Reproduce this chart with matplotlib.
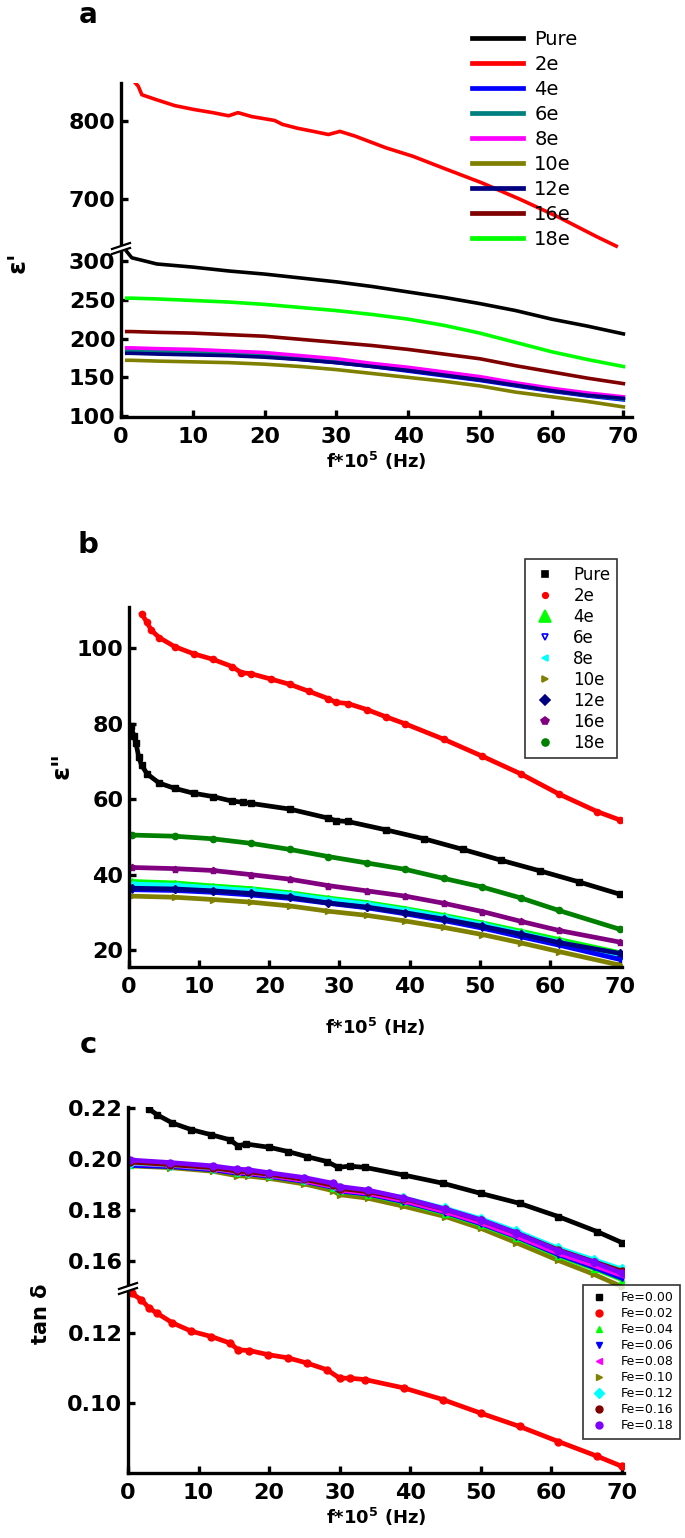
import matplotlib
matplotlib.use('Agg')
import matplotlib.pyplot as plt
from matplotlib.lines import Line2D
from matplotlib.patches import Polygon

# ---------------- data ----------------
# (a) real permittivity
x_a = [0.8, 1.5, 5, 10, 15, 20, 25, 30, 35, 40, 45, 50, 55, 60, 65, 70]
e1_pure = [312, 304, 296, 292, 287, 283, 278, 273, 267, 260, 253, 245, 236, 225, 216, 206]
e1_4e = [183, 183, 182, 181, 179, 177, 173, 169, 164, 158, 152, 146, 139, 132, 126, 121]
e1_6e = [185, 185, 184, 183, 181, 179, 175, 171, 165, 160, 154, 148, 140, 133, 127, 122]
e1_8e = [188, 188, 187, 186, 184, 182, 178, 174, 168, 163, 157, 151, 143, 136, 130, 125]
e1_10e = [172, 172, 171, 170, 169, 167, 164, 160, 155, 150, 145, 139, 131, 125, 119, 112]
e1_12e = [181, 181, 180, 179, 178, 176, 173, 169, 164, 159, 153, 147, 140, 133, 127, 123]
e1_16e = [209, 209, 208, 207, 205, 203, 199, 195, 191, 186, 180, 174, 165, 157, 149, 142]
e1_18e = [252, 252, 251, 249, 247, 244, 240, 236, 231, 225, 217, 207, 195, 183, 173, 164]
x_a_2e = [1.4, 1.9, 2.4, 2.9, 4.8, 7.5, 10.2, 12.8, 15, 16.3, 18.2, 21.4, 22.5, 24.6, 26.8,
          28.9, 30.5, 32.6, 36.9, 40.7, 44.9, 50.3, 55.6, 61, 66.3, 69]
e1_2e = [860, 850, 845, 834, 828, 820, 815, 811, 807, 811, 806, 801, 796, 791, 787,
         783, 787, 781, 766, 755, 740, 721, 700, 677, 652, 640]
labels_a = ['Pure', '2e', '4e', '6e', '8e', '10e', '12e', '16e', '18e']
colors_a = ['black', 'red', 'blue', '#008080', 'magenta', '#808000', '#000080', '#800000', '#00ff00']

# (b) imaginary permittivity
x_b_pure = [0.3, 0.7, 1.0, 1.4, 1.8, 2.6, 4.3, 6.5, 9.2, 12, 14.7, 16.3, 17.4, 22.9, 28.4,
            29.5, 31.2, 36.6, 42.1, 47.6, 53.1, 58.6, 64.1, 70]
e2_pure = [79.5, 76.7, 74.8, 71.1, 69, 66.7, 64.3, 62.9, 61.6, 60.7, 59.5, 59.2, 58.9, 57.4, 55,
           54.3, 54.1, 51.9, 49.5, 46.7, 43.8, 41, 38.1, 34.8]
x_b_2e = [1.8, 2.5, 3.2, 4.3, 6.5, 9.2, 12, 14.7, 16, 17.4, 20.2, 22.9, 25.7, 28.4, 29.5,
          31.2, 33.9, 36.6, 39.4, 44.9, 50.4, 55.9, 61.3, 66.8, 70]
e2_2e = [109.2, 107.1, 104.8, 102.9, 100.5, 98.6, 97.1, 95.2, 93.6, 93.3, 91.9, 90.5, 88.6, 86.7, 85.7,
         85.4, 83.8, 81.9, 80, 75.9, 71.4, 66.7, 61.4, 56.7, 54.5]
x_b = [0.4, 6.5, 12, 17.4, 22.9, 28.4, 33.9, 39.4, 44.9, 50.4, 55.9, 61.3, 70]
e2_4e = [38.2, 37.8, 37.0, 36.3, 35.2, 33.8, 32.6, 31.0, 29.2, 27.2, 25.0, 22.8, 19.3]
e2_6e = [36.0, 35.8, 35.3, 34.6, 33.7, 32.4, 31.2, 29.6, 27.8, 25.8, 23.5, 21.3, 17.5]
e2_8e = [37.5, 37.2, 36.5, 35.8, 34.8, 33.4, 32.2, 30.6, 28.8, 26.8, 24.5, 22.2, 18.3]
e2_10e = [34.3, 34.0, 33.4, 32.7, 31.7, 30.3, 29.2, 27.7, 26.0, 24.1, 21.9, 19.6, 16.0]
e2_12e = [36.4, 36.2, 35.7, 35.0, 34.0, 32.5, 31.4, 29.9, 28.2, 26.3, 24.2, 22.0, 19.1]
e2_16e = [41.9, 41.6, 41.1, 40.0, 38.8, 37.1, 35.7, 34.3, 32.4, 30.2, 27.6, 25.2, 22.1]
e2_18e = [50.5, 50.2, 49.5, 48.3, 46.7, 44.8, 43.1, 41.4, 39.0, 36.7, 33.8, 30.5, 25.5]
colors_b = ['black', 'red', '#00ff00', 'blue', 'cyan', '#808000', '#000080', '#800080', '#008000']
markers_b = ['s', 'o', '^', 'v', '<', '>', 'D', 'p', 'o']

# (c) loss tangent
x_c_pure = [3, 4.1, 6.3, 9, 11.8, 14.5, 15.6, 16.7, 20, 22.7, 25.4, 28.2, 29.8, 31.4, 33.6,
            39.1, 44.6, 50, 55.5, 61, 66.5, 70]
tan_pure = [0.2196, 0.2174, 0.2141, 0.2115, 0.2095, 0.2075, 0.2051, 0.2059, 0.2046, 0.2029, 0.2009,
            0.1990, 0.1967, 0.1972, 0.1967, 0.1937, 0.1905, 0.1865, 0.1826, 0.1774, 0.1715, 0.1672]
x_c_2e = [0.5, 1.9, 3, 4.1, 6.3, 9, 11.8, 14.5, 15.6, 17.2, 19.9, 22.7, 25.4, 28.2, 30,
          31.4, 33.6, 39.1, 44.6, 50, 55.5, 61, 66.5, 70]
tan_2e = [0.1314, 0.1295, 0.1271, 0.1257, 0.1229, 0.1205, 0.1190, 0.1171, 0.1152, 0.1150, 0.1138,
          0.1129, 0.1114, 0.1095, 0.1071, 0.1071, 0.1067, 0.1043, 0.1010, 0.0971, 0.0933, 0.0890,
          0.0848, 0.0819]
x_c = [0.3, 6, 12, 15.5, 17, 20, 25, 29, 30, 34, 39, 45, 50, 55, 61, 66, 70]
tan_4e = [0.1978, 0.1972, 0.1960, 0.1946, 0.1944, 0.1933, 0.1912, 0.1888, 0.1873, 0.1860, 0.1830,
          0.1786, 0.1742, 0.1690, 0.1620, 0.1570, 0.1527]
tan_6e = [0.1975, 0.1970, 0.1958, 0.1944, 0.1942, 0.1932, 0.1912, 0.1889, 0.1874, 0.1862, 0.1833,
          0.1790, 0.1746, 0.1695, 0.1625, 0.1575, 0.1532]
tan_8e = [0.1983, 0.1975, 0.1962, 0.1948, 0.1946, 0.1936, 0.1915, 0.1892, 0.1878, 0.1866, 0.1837,
          0.1793, 0.1750, 0.1698, 0.1630, 0.1583, 0.1543]
tan_10e = [0.1973, 0.1966, 0.1952, 0.1934, 0.1933, 0.1924, 0.1902, 0.1876, 0.1860, 0.1846, 0.1815,
           0.1774, 0.1728, 0.1672, 0.1602, 0.1548, 0.1499]
tan_12e = [0.1985, 0.1977, 0.1965, 0.1952, 0.1950, 0.1940, 0.1921, 0.1898, 0.1885, 0.1874, 0.1848,
           0.1806, 0.1766, 0.1717, 0.1650, 0.1605, 0.1568]
tan_16e = [0.1988, 0.1978, 0.1966, 0.1952, 0.1950, 0.1940, 0.1920, 0.1897, 0.1884, 0.1872, 0.1845,
           0.1802, 0.1760, 0.1710, 0.1643, 0.1597, 0.1560]
tan_18e = [0.1996, 0.1986, 0.1973, 0.1960, 0.1958, 0.1946, 0.1927, 0.1905, 0.1892, 0.1878, 0.1848,
           0.1803, 0.1761, 0.1710, 0.1640, 0.1595, 0.1552]
labels_c = ['Fe=0.00', 'Fe=0.02', 'Fe=0.04', 'Fe=0.06', 'Fe=0.08', 'Fe=0.10', 'Fe=0.12', 'Fe=0.16', 'Fe=0.18']
colors_c = ['black', 'red', '#00ff00', 'blue', 'magenta', '#808000', 'cyan', '#800000', '#8000ff']
markers_c = ['s', 'o', '^', 'v', '<', '>', 'D', 'o', 'o']

x_ticks = [0, 10, 20, 30, 40, 50, 60, 70]

# ---------------- figure ----------------
plt.rcParams['font.family'] = ['DejaVu Sans']
W, H = 685, 1538
fig = plt.figure(figsize=(W / 100, H / 100), dpi=100)
TICK_FS = 16
XLAB_FS = 13


def box(left, top, right, bottom):
    # pixel box -> figure fraction
    return [left / W, 1 - bottom / H, (right - left) / W, (bottom - top) / H]


def style(ax, bottom=True):
    for s in ['top', 'right']:
        ax.spines[s].set_visible(False)
    ax.spines['left'].set_linewidth(2.4)
    ax.spines['bottom'].set_linewidth(2.4)
    ax.tick_params(direction='in', length=5, width=2.4, labelsize=TICK_FS, pad=4)
    ax.tick_params(axis='x', pad=7)
    for t in ax.get_xticklabels() + ax.get_yticklabels():
        t.set_fontweight('bold')
    if not bottom:
        ax.spines['bottom'].set_visible(False)
        ax.tick_params(axis='x', bottom=False, labelbottom=False)


def break_mark(x, y):
    d = 5
    poly = Polygon([((x - 9) / W, 1 - (y + 2) / H), ((x + 9) / W, 1 - (y - 4) / H),
                    ((x + 9) / W, 1 - (y - 4 - d) / H), ((x - 9) / W, 1 - (y + 2 - d) / H)],
                   closed=True, transform=fig.transFigure, fc='white', ec='none', zorder=10)
    fig.patches.append(poly)
    for off in (0, d):
        fig.lines.append(Line2D([(x - 9) / W, (x + 9) / W], [1 - (y + 2 - off) / H, 1 - (y - 4 - off) / H],
                                transform=fig.transFigure, color='black', lw=1.6, zorder=11))


XLAB = 'f*10$^{\\mathbf{5}}$ (Hz)'

# ---------- panel a ----------
ax_a1 = fig.add_axes(box(121, 83, 632, 250))
ax_a2 = fig.add_axes(box(121, 250, 632, 417))
series_a = [e1_pure, None, e1_4e, e1_6e, e1_8e, e1_10e, e1_12e, e1_16e, e1_18e]
handles = []
for lab, col, ys in zip(labels_a, colors_a, series_a):
    if ys is None:
        ax_a1.plot(x_a_2e, e1_2e, color=col, lw=2.6)
    else:
        ax_a2.plot(x_a, ys, color=col, lw=2.6)
    handles.append(Line2D([], [], color=col, lw=3.4, label=lab))
for ax in (ax_a1, ax_a2):
    ax.set_xlim(0, 71.2)
    ax.set_xticks(x_ticks)
ax_a1.set_ylim(635, 849)
ax_a1.set_yticks([700, 800])
ax_a2.set_ylim(99, 314)
ax_a2.set_yticks([100, 150, 200, 250, 300])
style(ax_a1, bottom=False)
style(ax_a2)
ax_a2.set_xlabel(XLAB, fontsize=XLAB_FS, fontweight='bold', labelpad=2)
fig.legend(handles=handles, loc='upper left', bbox_to_anchor=(472 / W, 1 - 30 / H), frameon=False,
           fontsize=14, labelspacing=0.31, handlelength=2.6, handletextpad=0.6,
           borderpad=0, borderaxespad=0)
fig.text(18 / W, 1 - 262 / H, "ε'", rotation=90, fontsize=18, fontweight='bold',
         ha='center', va='center')
fig.text(88 / W, 1 - 1 / H, 'a', fontsize=20, fontweight='bold', ha='center', va='top')
break_mark(121, 252)

# ---------- panel b ----------
ax_b = fig.add_axes(box(129, 607, 622, 967))
series_b = [(x_b_pure, e2_pure), (x_b_2e, e2_2e), (x_b, e2_4e), (x_b, e2_6e), (x_b, e2_8e),
            (x_b, e2_10e), (x_b, e2_12e), (x_b, e2_16e), (x_b, e2_18e)]
draw_order_b = [0, 1, 8, 7, 2, 4, 3, 6, 5]
for i in draw_order_b:
    xs, ys = series_b[i]
    ax_b.plot(xs, ys, color=colors_b[i], lw=3.4)
    ax_b.plot(xs, ys, ls='none', marker=markers_b[i], color=colors_b[i], ms=4.5)
hb = []
for i, lab in enumerate(labels_a):
    ms = {0: 4, 1: 4, 2: 8, 3: 5, 4: 4, 5: 5, 6: 5, 7: 6, 8: 5}[i]
    mfc = 'white' if i == 3 else colors_b[i]
    hb.append(Line2D([], [], ls='none', marker=markers_b[i], color=colors_b[i], mfc=mfc,
                     mew=1.2, ms=ms, label=lab))
ax_b.set_xlim(0, 70.3)
ax_b.set_xticks(x_ticks)
ax_b.set_ylim(15.5, 111)
ax_b.set_yticks([20, 40, 60, 80, 100])
style(ax_b)
ax_b.set_xlabel(XLAB, fontsize=XLAB_FS, fontweight='bold', labelpad=14)
leg_b = fig.legend(handles=hb, loc='upper left', bbox_to_anchor=(525 / W, 1 - 559 / H), frameon=True,
                   fancybox=False, edgecolor='black', fontsize=12, labelspacing=0.18,
                   handlelength=1.6, handletextpad=0.9, borderpad=0.4, borderaxespad=0)
leg_b.get_frame().set_linewidth(1.2)
fig.text(62 / W, 1 - 765 / H, 'ε"', rotation=90, fontsize=18, fontweight='bold',
         ha='center', va='center')
fig.text(88 / W, 1 - 545 / H, 'b', fontsize=21, fontweight='bold', ha='center', va='center')

# ---------- panel c ----------
ax_c1 = fig.add_axes(box(128, 1107, 624, 1290))
ax_c2 = fig.add_axes(box(128, 1290, 624, 1473))
series_c = [(x_c_pure, tan_pure), (x_c_2e, tan_2e), (x_c, tan_4e), (x_c, tan_6e), (x_c, tan_8e),
            (x_c, tan_10e), (x_c, tan_12e), (x_c, tan_16e), (x_c, tan_18e)]
draw_order_c = [0, 5, 2, 3, 4, 6, 7, 8, 1]
for i in draw_order_c:
    xs, ys = series_c[i]
    ax = ax_c2 if i == 1 else ax_c1
    ax.plot(xs, ys, color=colors_c[i], lw=3.4)
    ax.plot(xs, ys, ls='none', marker=markers_c[i], color=colors_c[i], ms=5)
hc = []
for i, lab in enumerate(labels_c):
    hc.append(Line2D([], [], ls='none', marker=markers_c[i], color=colors_c[i], ms=5, label=lab))
for ax in (ax_c1, ax_c2):
    ax.set_xlim(0, 70.3)
    ax.set_xticks(x_ticks)
ax_c1.set_ylim(0.1486, 0.2204)
ax_c1.set_yticks([0.16, 0.18, 0.20, 0.22])
ax_c1.set_yticklabels(['0.16', '0.18', '0.20', '0.22'])
ax_c2.set_ylim(0.080, 0.1323)
ax_c2.set_yticks([0.10, 0.12])
ax_c2.set_yticklabels(['0.10', '0.12'])
style(ax_c1, bottom=False)
style(ax_c2)
ax_c2.set_xlabel(XLAB, fontsize=XLAB_FS, fontweight='bold', labelpad=2)
leg_c = fig.legend(handles=hc, loc='upper left', bbox_to_anchor=(583 / W, 1 - 1285 / H), frameon=True,
                   fancybox=False, edgecolor='black', fontsize=9, labelspacing=0.24,
                   handlelength=1.5, handletextpad=1.0, borderpad=0.5, borderaxespad=0)
leg_c.get_frame().set_linewidth(1.2)
fig.text(41 / W, 1 - 1314 / H, 'tan δ', rotation=90, fontsize=15, fontweight='bold',
         ha='center', va='center')
fig.text(88 / W, 1 - 1045 / H, 'c', fontsize=21, fontweight='bold', ha='center', va='center')
break_mark(128, 1292)

fig.savefig('out.png', dpi=100)
